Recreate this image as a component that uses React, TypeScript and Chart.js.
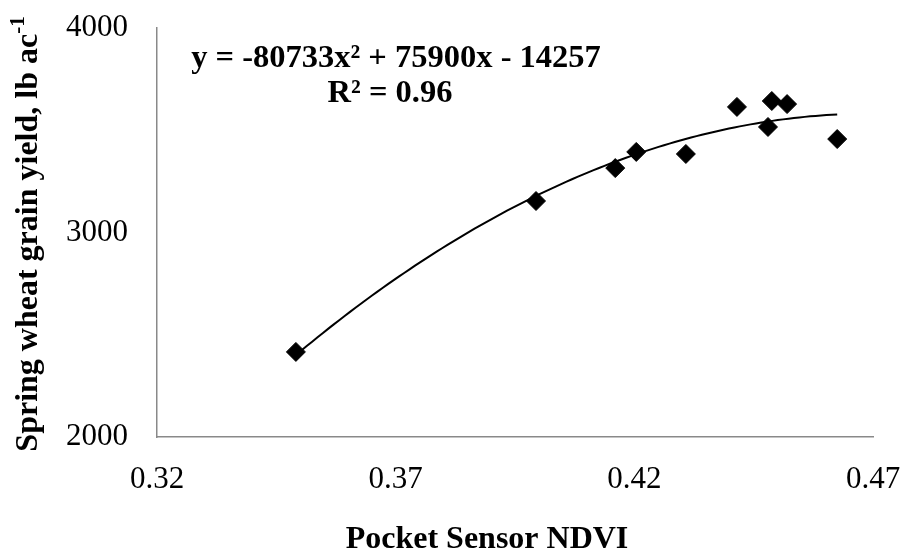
import React, { useEffect, useRef } from "react";
import { Chart, registerables } from "chart.js";

Chart.register(...registerables);

// ---- Data ----
const ndvi = [0.3491, 0.3994, 0.416, 0.4204, 0.4308, 0.4415, 0.448, 0.4488, 0.452, 0.4625];
const yieldLbAc = [2416, 3154, 3315, 3394, 3384, 3614, 3516, 3643, 3628, 3457];
const trendCoefficients = [-80733, 75900, -14257]; // a, b, c of y = a x^2 + b x + c
const xTickValues = [0.32, 0.37, 0.42, 0.47];
const xTickLabels = ["0.32", "0.37", "0.42", "0.47"];
const yTickValues = [2000, 3000, 4000];
const yTickLabels = ["2000", "3000", "4000"];
const equationText = "y = -80733x² + 75900x - 14257";
const r2Text = "R² = 0.96";
const xTitle = "Pocket Sensor NDVI";
const yTitleMain = "Spring wheat grain yield, lb ac";
const yTitleSup = "-1";

const SERIF = "'Liberation Serif', 'Times New Roman', 'DejaVu Serif', serif";

function trendPoints() {
  const [a, b, c] = trendCoefficients;
  const xmin = Math.min(...ndvi);
  const xmax = Math.max(...ndvi);
  const n = 100;
  const pts: { x: number; y: number }[] = [];
  for (let i = 0; i <= n; i++) {
    const x = xmin + ((xmax - xmin) * i) / n;
    pts.push({ x, y: a * x * x + b * x + c });
  }
  return pts;
}

const textPlugin = {
  id: "customTexts",
  afterDraw(chart: any) {
    const ctx = chart.ctx as CanvasRenderingContext2D;
    ctx.save();
    ctx.fillStyle = "#000";
    ctx.textBaseline = "alphabetic";
    ctx.textAlign = "center";
    ctx.font = `bold 32.5px ${SERIF}`;
    ctx.fillText(equationText, 396, 67);
    ctx.fillText(r2Text, 390, 102);
    ctx.font = `bold 32px ${SERIF}`;
    ctx.fillText(xTitle, 487, 548);

    // Rotated y-axis title with superscript
    ctx.translate(37, 234);
    ctx.rotate(-Math.PI / 2);
    ctx.font = `bold 32px ${SERIF}`;
    const mainW = ctx.measureText(yTitleMain).width;
    ctx.font = `bold 21px ${SERIF}`;
    const supW = ctx.measureText(yTitleSup).width;
    const total = mainW + supW;
    ctx.textAlign = "left";
    ctx.font = `bold 32px ${SERIF}`;
    ctx.fillText(yTitleMain, -total / 2, 0);
    ctx.font = `bold 21px ${SERIF}`;
    ctx.fillText(yTitleSup, -total / 2 + mainW, -13);
    ctx.restore();
  },
};

function zeroPadding(scale: any) {
  scale.paddingTop = 0;
  scale.paddingBottom = 0;
  scale.paddingLeft = 0;
  scale.paddingRight = 0;
}

export default function App() {
  const canvasRef = useRef<HTMLCanvasElement | null>(null);

  useEffect(() => {
    if (!canvasRef.current) return;
    const points = ndvi.map((x, i) => ({ x, y: yieldLbAc[i] }));
    const chart = new Chart(canvasRef.current, {
      type: "scatter",
      data: {
        datasets: [
          {
            label: "Trend",
            type: "line",
            data: trendPoints(),
            borderColor: "#000",
            borderWidth: 2,
            pointRadius: 0,
            fill: false,
            tension: 0,
            order: 2,
          } as any,
          {
            label: "Yield",
            data: points,
            pointStyle: "rectRot",
            pointRadius: 9.5,
            pointBackgroundColor: "#000",
            pointBorderColor: "#000",
            pointBorderWidth: 1,
            showLine: false,
            order: 1,
          },
        ],
      },
      options: {
        responsive: false,
        animation: false,
        devicePixelRatio: 1,
        layout: { padding: { top: 28, right: 30, left: 0, bottom: 0 } },
        plugins: {
          legend: { display: false },
          tooltip: { enabled: false },
        },
        scales: {
          x: {
            type: "linear",
            min: 0.32,
            max: 0.47,
            grid: { display: false, drawTicks: false },
            border: { display: true, color: "#898989", width: 1.5 },
            afterBuildTicks: (scale: any) => {
              scale.ticks = xTickValues.map((v) => ({ value: v }));
            },
            afterFit: (scale: any) => {
              scale.height = 115;
              zeroPadding(scale);
            },
            ticks: {
              padding: 24,
              color: "#000",
              font: { family: SERIF, size: 31 },
              maxRotation: 0,
              autoSkip: false,
              callback: (_v: any, i: number) => xTickLabels[i],
            },
          },
          y: {
            type: "linear",
            min: 2000,
            max: 4000,
            grid: { display: false, drawTicks: false },
            border: { display: true, color: "#898989", width: 1.5 },
            afterBuildTicks: (scale: any) => {
              scale.ticks = yTickValues.map((v) => ({ value: v }));
            },
            afterFit: (scale: any) => {
              scale.width = 157;
              zeroPadding(scale);
            },
            ticks: {
              padding: 29,
              color: "#000",
              font: { family: SERIF, size: 31 },
              autoSkip: false,
              callback: (_v: any, i: number) => yTickLabels[i],
            },
          },
        },
      },
      plugins: [textPlugin],
    });
    return () => chart.destroy();
  }, []);

  return (
    <div style={{ position: "absolute", left: 0, top: 0, width: 903, height: 552, background: "#fff" }}>
      <canvas ref={canvasRef} width={903} height={552} style={{ width: 903, height: 552, display: "block" }} />
    </div>
  );
}
